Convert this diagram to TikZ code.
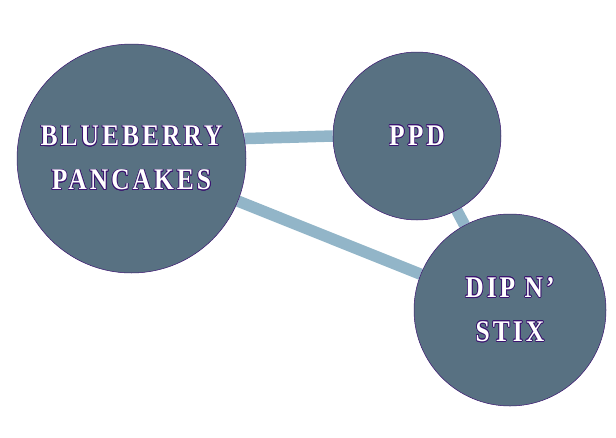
\documentclass[tikz,border=0pt]{standalone}
\usepackage{fontspec}
\setmainfont{Liberation Serif}[FakeStretch=0.85, LetterSpace=10]
\usepackage{contour}
\contourlength{0.7pt}
\usetikzlibrary{positioning, backgrounds}
\definecolor{slate}{HTML}{587182}
\definecolor{linkblue}{HTML}{92B5C8}
\definecolor{rimpurple}{HTML}{3A1470}
\newcommand{\rimtext}[1]{\contour{rimpurple}{#1}}
\tikzset{
    place/.style={circle, draw=rimpurple, line width=0.5pt, fill=slate, inner sep=0pt, text=white, align=center, font=\fontsize{30}{44}\selectfont\bfseries},
    link/.style={line width=11.5pt, draw=linkblue}
}

\begin{document}
\begin{tikzpicture}[x=1pt, y=-1pt]
    \useasboundingbox (0,0) rectangle (616,437);
    \node (pancakes) [place, minimum size=229pt] at (131.5,158.5) {\rimtext{BLUEBERRY}\\\rimtext{PANCAKES}};
    \node (ppd) [place, minimum size=168pt] at (417,136) {\rimtext{PPD}};
    \node (dip) [place, minimum size=192pt] at (510,310) {\rimtext{DIP N'}\\\rimtext{STIX}};
    % links go behind the circles
    \begin{scope}[on background layer]
        \draw [link] (pancakes.10) -- (ppd.180);
        \draw [link] (pancakes) -- (dip);
        \draw [link] (ppd) -- (dip);
    \end{scope}
\end{tikzpicture}
\end{document}
